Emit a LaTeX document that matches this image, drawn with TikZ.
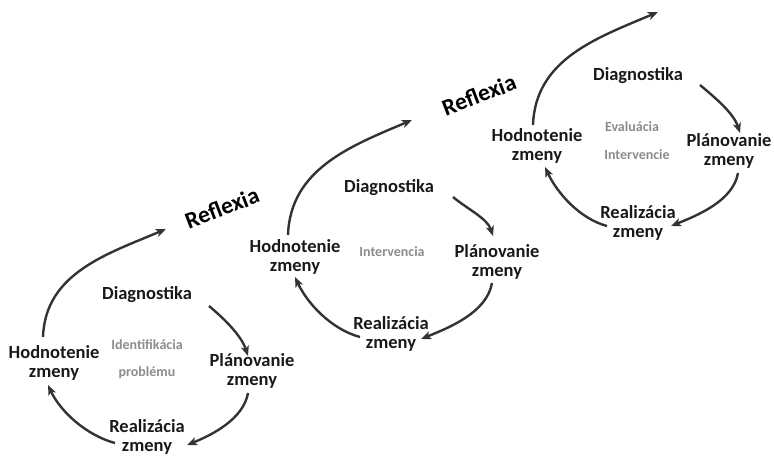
\documentclass[tikz,border=0pt]{standalone}
\usepackage{fontspec}
\setmainfont{Carlito}
\usetikzlibrary{arrows.meta}
\definecolor{arr}{HTML}{333333}
\definecolor{sub}{HTML}{8C8C8C}
\tikzset{
  lbl/.style={font=\fontsize{18.5}{19.5}\selectfont\bfseries, align=center, inner sep=1pt, text=black!90},
  gry/.style={font=\fontsize{14}{15}\selectfont\bfseries, text=sub, inner sep=1pt},
  refl/.style={font=\fontsize{23.5}{25}\selectfont\bfseries, rotate=21, inner sep=1pt},
  arw/.style={draw=arr, line width=2.4pt, -{Stealth[length=10pt,width=8pt,inset=2.5pt]}},
  sarc/.style={looseness=0.85}
}
\begin{document}
\begin{tikzpicture}[x=1pt,y=1pt]
\useasboundingbox (0,0) rectangle (774,-456);
% ---------- cycle 1 ----------
\node[lbl] (d1) at (147,-295) {Diagnostika};
\node[lbl] (h1) at (54,-363) {Hodnotenie\\zmeny};
\node[lbl] (p1) at (252,-371) {Plánovanie\\zmeny};
\node[lbl] (r1) at (147,-437) {Realizácia\\zmeny};
\node[gry] (g1a) at (147,-345) {Identifikácia};
\node[gry] (g1b) at (147,-373) {problému};
\node[refl] (f1) at (222,-208) {Reflexia};
\coordinate (d1s) at (209,-306);
\coordinate (p1e) at (248,-356);
\coordinate (p1s) at (248,-393);
\coordinate (r1e) at (187,-445);
\coordinate (r1s) at (115,-443);
\coordinate (h1e) at (48,-385);
\coordinate (h1s) at (43,-337);
\coordinate (f1e) at (166,-229);
\draw[arw,sarc] (d1s) to[out=-40,in=108] (p1e);
\draw[arw,sarc] (p1s) to[out=-100,in=22] (r1e);
\draw[arw,sarc] (r1s) to[out=165,in=-65] (h1e);
\draw[arw] (h1s) to[out=88,in=203] (f1e);
% ---------- cycle 2 ----------
\node[lbl] (d2) at (389,-188) {Diagnostika};
\node[lbl] (h2) at (295,-257) {Hodnotenie\\zmeny};
\node[lbl] (p2) at (497,-262) {Plánovanie\\zmeny};
\node[lbl] (r2) at (391,-334) {Realizácia\\zmeny};
\node[gry] (g2) at (392,-252) {Intervencia};
\node[refl] (f2) at (479,-95) {Reflexia};
\coordinate (d2s) at (453,-197);
\coordinate (p2e) at (493,-236);
\coordinate (p2s) at (492,-283);
\coordinate (r2e) at (421,-339);
\coordinate (r2s) at (360,-337);
\coordinate (h2e) at (295,-277);
\coordinate (h2s) at (288,-235);
\coordinate (f2e) at (412,-120);
\draw[arw,sarc] (d2s) to[out=-40,in=108] (p2e);
\draw[arw,sarc] (p2s) to[out=-100,in=22] (r2e);
\draw[arw,sarc] (r2s) to[out=165,in=-65] (h2e);
\draw[arw] (h2s) to[out=88,in=203] (f2e);
% ---------- cycle 3 ----------
\node[lbl] (d3) at (638,-76) {Diagnostika};
\node[lbl] (h3) at (537,-146) {Hodnotenie\\zmeny};
\node[lbl] (p3) at (729,-151) {Plánovanie\\zmeny};
\node[lbl] (r3) at (638,-223) {Realizácia\\zmeny};
\node[gry] (g3a) at (632,-127) {Evaluácia};
\node[gry] (g3b) at (637,-155) {Intervencie};
\coordinate (d3s) at (700,-85);
\coordinate (p3e) at (740,-133);
\coordinate (p3s) at (738,-173);
\coordinate (r3e) at (671,-226);
\coordinate (r3s) at (607,-226);
\coordinate (h3e) at (545,-167);
\coordinate (h3s) at (533,-125);
\coordinate (f3e) at (658,-12);
\draw[arw,sarc] (d3s) to[out=-40,in=108] (p3e);
\draw[arw,sarc] (p3s) to[out=-100,in=22] (r3e);
\draw[arw,sarc] (r3s) to[out=165,in=-65] (h3e);
\draw[arw] (h3s) to[out=88,in=203] (f3e);
\end{tikzpicture}
\end{document}
